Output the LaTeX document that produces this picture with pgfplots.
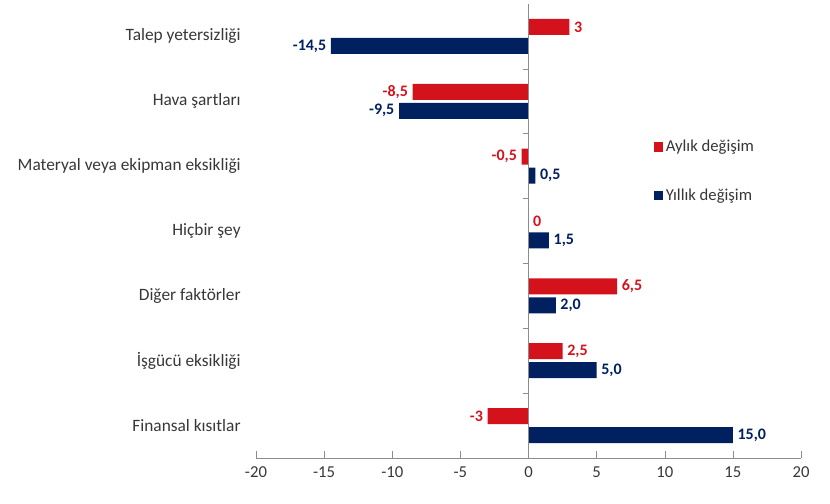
\documentclass[border=0pt]{standalone}
\usepackage{fontspec}
\setmainfont{Carlito}
\usepackage{pgfplots}
\usepackage{pgfplotstable}
\pgfplotsset{compat=1.18}
\definecolor{aylik}{RGB}{212,18,28}
\definecolor{yillik}{RGB}{0,32,96}
\definecolor{axgray}{RGB}{140,140,140}
\definecolor{txt}{RGB}{55,55,55}

% pos: 0 = bottom category
\pgfplotstableread{
pos aylik yillik alab ylab
6 3 -14.5 3 -14,5
5 -8.5 -9.5 -8,5 -9,5
4 -0.5 0.5 -0,5 0,5
3 0 1.5 0 1,5
2 6.5 2 6,5 2,0
1 2.5 5 2,5 5,0
0 -3 15 -3 15,0
}\data

\begin{document}
\begin{tikzpicture}
\useasboundingbox (-192pt,-33.75pt) rectangle (430.5pt,343.5pt);
\begin{axis}[
    at={(0,0)}, anchor=south west,
    scale only axis, width=408.75pt, height=340.5pt,
    xbar, bar width=12pt,
    xmin=-20, xmax=20, ymin=-0.5, ymax=6.5,
    xtick={-20,-15,...,20},
    ytick={0,...,6},
    yticklabels={Finansal kısıtlar, İşgücü eksikliği, Diğer faktörler, Hiçbir şey,
      Materyal veya ekipman eksikliği, Hava şartları, Talep yetersizliği},
    axis x line*=bottom, axis y line*=left,
    y axis line style={draw=none}, ytick style={draw=none},
    x axis line style={axgray}, xtick style={axgray},
    xtick align=inside, major tick length=5pt,
    xticklabel style={font=\fontsize{12.5}{14}\selectfont, text=txt, yshift=-3pt},
    yticklabel style={font=\fontsize{13}{15}\selectfont, text=txt, xshift=-3pt},
    /pgf/number format/assume math mode=true,
    point meta=explicit symbolic,
    nodes near coords,
    visualization depends on={rawx \as \rawx},
    every node near coord/.append style={
      anchor=\ifdim\rawx pt<0pt east\else west\fi,
      font=\fontsize{12}{14}\selectfont\bfseries},
    legend style={draw=none, at={(0.722,0.712)}, anchor=north west,
      font=\fontsize{12.5}{14}\selectfont, text=txt, row sep=22pt,
      legend cell align=left},
    legend image code/.code={\fill[#1] (0pt,-3.5pt) rectangle (7pt,3.5pt);},
]
\addplot[fill=aylik, draw=none, bar shift=7.1pt,
  nodes near coords style={text=aylik}]
  table[x=aylik, y=pos, meta=alab] {\data};
\addlegendentry{Aylık değişim}
\addplot[fill=yillik, draw=none, bar shift=-7.1pt,
  nodes near coords style={text=yillik}]
  table[x=yillik, y=pos, meta=ylab] {\data};
\addlegendentry{Yıllık değişim}
\draw[axgray] (axis cs:0,-0.5) -- (axis cs:0,6.5);
\pgfplotsinvokeforeach{0.5,1.5,2.5,3.5,4.5,5.5}{
  \draw[axgray] (axis cs:0,#1) -- ++(-4pt,0pt);
}
\end{axis}
\end{tikzpicture}
\end{document}
